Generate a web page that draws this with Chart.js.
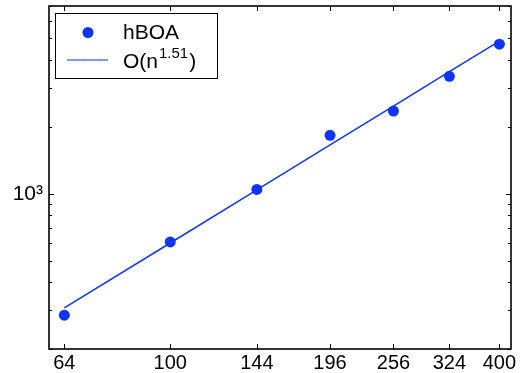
<!DOCTYPE html>
<html><head><meta charset="utf-8">
<script src="https://cdn.jsdelivr.net/npm/chart.js@4/dist/chart.umd.min.js"></script>
<style>html,body{margin:0;padding:0;background:#fff}#wrap{width:521px;height:373px;position:relative}</style>
</head><body><div id="wrap"><canvas id="c" width="521" height="373"></canvas></div>
<script>
const problemSizes = [64, 100, 144, 196, 256, 324, 400];
const hboaEvaluations = [284, 607, 1045, 1833, 2355, 3376, 4712];
const fitValues = [306, 600, 1041, 1658, 2482, 3543, 4869];
const xTickLabels = ['64', '100', '144', '196', '256', '324', '400'];
const yMajorTicks = [1000];
const yTickLabels = ['10³'];
const yMinorTicks = [200, 300, 400, 500, 600, 700, 800, 900, 2000, 3000, 4000, 5000, 6000, 7000];
const legendHboa = 'hBOA';
const legendFitBase = 'O(n';
const legendFitExp = '1.51';
const legendFitEnd = ')';

const FONT = "'Liberation Sans', Arial, Helvetica, sans-serif";
const BLUE = '#1034ff';

const framePlugin = {
  id: 'frameTicks',
  afterDraw(chart) {
    const ctx = chart.ctx, a = chart.chartArea;
    const xs = chart.scales.x, ys = chart.scales.y;
    ctx.save();
    ctx.strokeStyle = '#000';
    ctx.lineWidth = 1;
    ctx.beginPath();
    problemSizes.forEach(v => {
      const px = Math.round(xs.getPixelForValue(v)) + 0.5;
      ctx.moveTo(px, a.bottom); ctx.lineTo(px, a.bottom - 5);
      ctx.moveTo(px, a.top); ctx.lineTo(px, a.top + 5);
    });
    yMajorTicks.forEach(v => {
      const py = Math.round(ys.getPixelForValue(v)) + 0.5;
      ctx.moveTo(a.left, py); ctx.lineTo(a.left + 5, py);
      ctx.moveTo(a.right, py); ctx.lineTo(a.right - 5, py);
    });
    yMinorTicks.forEach(v => {
      const py = Math.round(ys.getPixelForValue(v)) + 0.5;
      ctx.moveTo(a.left, py); ctx.lineTo(a.left + 3, py);
      ctx.moveTo(a.right, py); ctx.lineTo(a.right - 3, py);
    });
    ctx.stroke();
    ctx.lineWidth = 1.6;
    ctx.strokeRect(a.left, a.top, a.right - a.left, a.bottom - a.top);

    // legend
    const bx = a.left + 6.5, by = a.top + 7.5, bw = 162, bh = 65;
    ctx.fillStyle = '#fff';
    ctx.fillRect(bx, by, bw, bh);
    ctx.lineWidth = 1;
    ctx.strokeStyle = '#000';
    ctx.strokeRect(bx, by, bw, bh);
    ctx.fillStyle = BLUE;
    ctx.beginPath();
    ctx.arc(a.left + 39, a.top + 26.5, 5.5, 0, Math.PI * 2);
    ctx.fill();
    ctx.strokeStyle = '#5a74ff';
    ctx.lineWidth = 1.3;
    ctx.beginPath();
    ctx.moveTo(a.left + 18, a.top + 54); ctx.lineTo(a.left + 59, a.top + 54);
    ctx.stroke();
    ctx.fillStyle = '#000';
    ctx.textBaseline = 'alphabetic';
    ctx.textAlign = 'left';
    ctx.font = '21px ' + FONT;
    const tx = a.left + 74;
    ctx.fillText(legendHboa, tx, a.top + 33);
    ctx.fillText(legendFitBase, tx, a.top + 62);
    let w = ctx.measureText(legendFitBase).width;
    ctx.font = '15px ' + FONT;
    ctx.fillText(legendFitExp, tx + w + 1, a.top + 52);
    const w2 = ctx.measureText(legendFitExp).width;
    ctx.font = '21px ' + FONT;
    ctx.fillText(legendFitEnd, tx + w + w2 + 2, a.top + 62);
    ctx.restore();
  }
};

new Chart(document.getElementById('c'), {
  type: 'scatter',
  data: {
    datasets: [
      {
        label: legendHboa,
        data: problemSizes.map((x, i) => ({ x: x, y: hboaEvaluations[i] })),
        backgroundColor: BLUE,
        borderColor: BLUE,
        pointRadius: 5.5,
        pointBorderWidth: 0,
        showLine: false
      },
      {
        label: legendFitBase + legendFitExp + legendFitEnd,
        data: problemSizes.map((x, i) => ({ x: x, y: fitValues[i] })),
        borderColor: BLUE,
        borderWidth: 1.5,
        pointRadius: 0,
        showLine: true,
        fill: false
      }
    ]
  },
  options: {
    responsive: false,
    devicePixelRatio: 1,
    animation: false,
    layout: { padding: { top: 6, right: 10, left: 0, bottom: 0 } },
    plugins: { legend: { display: false }, tooltip: { enabled: false } },
    scales: {
      x: {
        type: 'logarithmic',
        min: 60, max: 420,
        grid: { display: false, drawTicks: false },
        border: { display: false },
        ticks: {
          font: { family: FONT, size: 20 },
          color: '#000',
          padding: 2,
          autoSkip: false,
          maxRotation: 0,
          callback: (v, i) => xTickLabels[i]
        },
        afterBuildTicks: s => { s.ticks = problemSizes.map(v => ({ value: v })); },
        afterFit: s => { s.height = 24; s.paddingLeft = 0; s.paddingRight = 0; s.paddingTop = 0; s.paddingBottom = 0; }
      },
      y: {
        type: 'logarithmic',
        min: 200, max: 7000,
        grid: { display: false, drawTicks: false },
        border: { display: false },
        ticks: {
          font: { family: FONT, size: 21 },
          color: '#000',
          padding: 6,
          autoSkip: false,
          callback: (v, i) => yTickLabels[i]
        },
        afterBuildTicks: s => { s.ticks = yMajorTicks.map(v => ({ value: v })); },
        afterFit: s => { s.width = 49; s.paddingTop = 0; s.paddingBottom = 0; s.paddingLeft = 0; s.paddingRight = 0; }
      }
    }
  },
  plugins: [framePlugin]
});
</script></body></html>
